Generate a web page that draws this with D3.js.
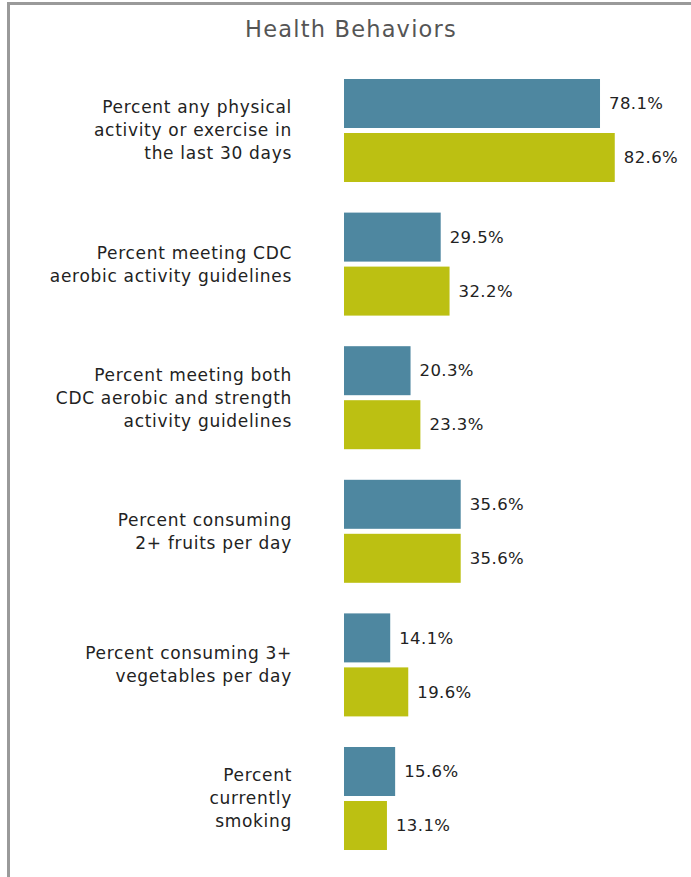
<!DOCTYPE html>
<html>
<head>
<meta charset="utf-8">
<script src="https://cdn.jsdelivr.net/npm/d3@7"></script>
<style>
  body { margin: 0; background: #fff; }
  svg { display: block; font-family: "DejaVu Sans", sans-serif; }
</style>
</head>
<body>
<div id="chart"></div>
<script>
// 数据
const categories = [
  ["Percent any physical", "activity or exercise in", "the last 30 days"],
  ["Percent meeting CDC", "aerobic activity guidelines"],
  ["Percent meeting both", "CDC aerobic and strength", "activity guidelines"],
  ["Percent consuming", "2+ fruits per day"],
  ["Percent consuming 3+", "vegetables per day"],
  ["Percent", "currently", "smoking"]
];
const seriesA = [78.1, 29.5, 20.3, 35.6, 14.1, 15.6];
const seriesB = [82.6, 32.2, 23.3, 35.6, 19.6, 13.1];
const seriesKeys = ["a", "b"];
const seriesColors = ["#4e87a0", "#bcc012"];

const width = 691, height = 877;
const svg = d3.select('#chart').append('svg')
  .attr('width', width)
  .attr('height', height);

// 边框（上、左）
svg.append('line').attr('x1', 7).attr('x2', width).attr('y1', 3.5).attr('y2', 3.5)
  .attr('stroke', '#9a9a9a').attr('stroke-width', 3);
svg.append('line').attr('x1', 8.5).attr('x2', 8.5).attr('y1', 2).attr('y2', height)
  .attr('stroke', '#9a9a9a').attr('stroke-width', 3);

// 标题
svg.append('text')
  .attr('x', 351).attr('y', 37)
  .attr('text-anchor', 'middle')
  .style('font-size', '22.5px')
  .style('letter-spacing', '1.2px')
  .style('fill', '#555')
  .text('Health Behaviors');

const idx = d3.range(categories.length);
const yScale = d3.scaleBand().domain(idx).range([63.7, 865.3]).paddingInner(0.229).paddingOuter(0.1145);
const ySub = d3.scaleBand().domain(seriesKeys).range([0, yScale.bandwidth()]).paddingInner(0.0926);
const xScale = d3.scaleLinear().domain([0, 100]).range([344, 344 + 327.8]);

const groups = svg.selectAll('.grp')
  .data(idx)
  .enter()
  .append('g')
  .attr('class', 'grp')
  .attr('transform', i => `translate(0,${yScale(i)})`);

// 柱子和数值
seriesKeys.forEach((k, si) => {
  const vals = si === 0 ? seriesA : seriesB;
  groups.append('rect')
    .attr('x', xScale(0))
    .attr('y', ySub(k))
    .attr('width', i => xScale(vals[i]) - xScale(0))
    .attr('height', ySub.bandwidth())
    .attr('fill', seriesColors[si]);

  groups.append('text')
    .attr('x', i => xScale(vals[i]) + 9)
    .attr('y', ySub(k) + ySub.bandwidth() / 2)
    .attr('dy', '0.35em')
    .style('font-size', '16.5px')
    .style('letter-spacing', '0.4px')
    .style('fill', '#222')
    .text(i => vals[i].toFixed(1) + '%');
});

// 分类标签
const lineH = 23;
groups.each(function (i) {
  const lines = categories[i];
  const cy = yScale.bandwidth() / 2;
  const t = d3.select(this).append('text')
    .attr('text-anchor', 'end')
    .style('font-size', '17px')
    .style('letter-spacing', '0.7px')
    .style('fill', '#222');
  lines.forEach((ln, j) => {
    t.append('tspan')
      .attr('x', 292)
      .attr('y', cy + (j - (lines.length - 1) / 2) * lineH)
      .attr('dy', '0.35em')
      .text(ln);
  });
});
</script>
</body>
</html>
